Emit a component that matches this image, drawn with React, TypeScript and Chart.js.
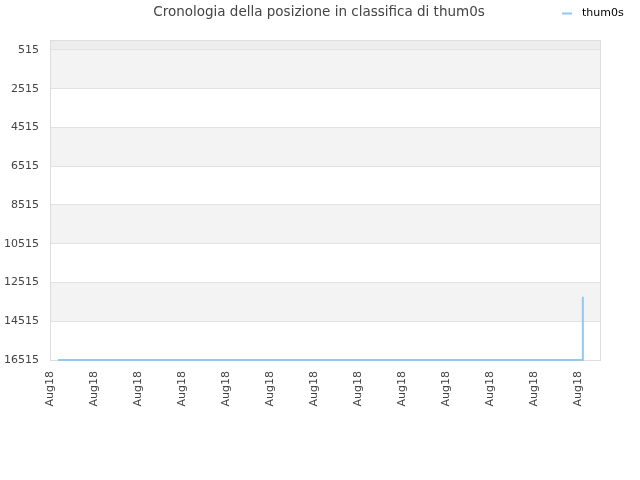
import { useEffect, useRef } from "react"
import { Chart, registerables } from "chart.js"

Chart.register(...registerables)

// posizione nel tempo (x in unità di etichetta, 0 = prima etichetta)
const dayIndex = [0.18, 12.11, 12.11]
const ranks = [16515, 16515, 13250]
const yTicks = [515, 2515, 4515, 6515, 8515, 10515, 12515, 14515, 16515]
const xTicks = [0, 1, 2, 3, 4, 5, 6, 7, 8, 9, 10, 11, 12]
const xLabel = "Aug18"
const seriesName = "thum0s"
const titleText = "Cronologia della posizione in classifica di thum0s"

const lineColor = "#96c6f2"
const font = "DejaVu Sans"

// bande alternate di sfondo + bordo + titolo + legenda
const decorPlugin = {
  id: "decor",
  beforeDraw(chart: any) {
    const { ctx, chartArea, scales } = chart
    const y = scales.y
    ctx.save()
    const edges = [y.min, ...yTicks]
    for (let i = 0; i < edges.length - 1; i++) {
      const top = y.getPixelForValue(edges[i])
      const bottom = y.getPixelForValue(edges[i + 1])
      let fill = ""
      if (i === 0) fill = "#ededed"
      else if (i % 2 === 1) fill = "#f3f3f3"
      if (fill) {
        ctx.fillStyle = fill
        ctx.fillRect(chartArea.left, top, chartArea.right - chartArea.left, bottom - top)
      }
    }
    ctx.restore()
  },
  beforeDatasetsDraw(chart: any) {
    const { ctx, chartArea } = chart
    ctx.save()
    ctx.strokeStyle = "#dddddd"
    ctx.lineWidth = 1
    ctx.strokeRect(chartArea.left + 0.5, chartArea.top + 0.5, chartArea.right - chartArea.left, chartArea.bottom - chartArea.top)
    ctx.restore()
  },
  afterDraw(chart: any) {
    const { ctx } = chart
    ctx.save()
    ctx.fillStyle = "#444444"
    ctx.font = `13.5px "${font}"`
    ctx.textAlign = "center"
    ctx.textBaseline = "middle"
    ctx.fillText(titleText, 319, 12)

    ctx.strokeStyle = lineColor
    ctx.lineWidth = 2
    ctx.beginPath()
    ctx.moveTo(562, 13.5)
    ctx.lineTo(572, 13.5)
    ctx.stroke()
    ctx.fillStyle = "#000000"
    ctx.font = `11px "${font}"`
    ctx.textAlign = "left"
    ctx.fillText(seriesName, 582, 13)
    ctx.restore()
  },
}

export default function App() {
  const chartRef = useRef<HTMLCanvasElement>(null)
  const chartInstance = useRef<Chart | null>(null)

  useEffect(() => {
    document.body.style.margin = "0"
    if (!chartRef.current) return
    if (chartInstance.current) chartInstance.current.destroy()

    const ctx = chartRef.current.getContext("2d")
    if (!ctx) return

    chartInstance.current = new Chart(ctx, {
      type: "line",
      data: {
        datasets: [
          {
            label: seriesName,
            data: dayIndex.map((x, i) => ({ x, y: ranks[i] })),
            borderColor: lineColor,
            borderWidth: 2,
            pointRadius: 0,
            fill: false,
            tension: 0,
            clip: false,
          },
        ],
      },
      options: {
        responsive: false,
        animation: false,
        layout: { padding: { top: 40, right: 40, left: 0, bottom: 0 } },
        plugins: {
          legend: { display: false },
          title: { display: false },
          tooltip: { enabled: false },
        },
        scales: {
          x: {
            type: "linear",
            min: 0,
            max: 12.5,
            afterBuildTicks: (axis: any) => {
              axis.ticks = xTicks.map((v) => ({ value: v }))
            },
            afterFit: (axis: any) => {
              axis.height = 120
            },
            grid: { display: false },
            border: { display: false },
            ticks: {
              autoSkip: false,
              maxRotation: 90,
              minRotation: 90,
              color: "#444444",
              font: { family: font, size: 11 },
              callback: () => xLabel,
            },
          },
          y: {
            type: "linear",
            reverse: true,
            min: 0,
            max: 16515,
            afterBuildTicks: (axis: any) => {
              axis.ticks = yTicks.map((v) => ({ value: v }))
            },
            afterFit: (axis: any) => {
              axis.width = 50
            },
            grid: { color: "#e2e2e2", drawTicks: false },
            border: { display: false },
            ticks: {
              padding: 11,
              color: "#444444",
              font: { family: font, size: 11 },
              callback: (v: any) => String(v),
            },
          },
        },
      },
      plugins: [decorPlugin],
    })

    return () => {
      if (chartInstance.current) {
        chartInstance.current.destroy()
        chartInstance.current = null
      }
    }
  }, [])

  return <canvas ref={chartRef} width={640} height={480} style={{ display: "block" }}></canvas>
}
